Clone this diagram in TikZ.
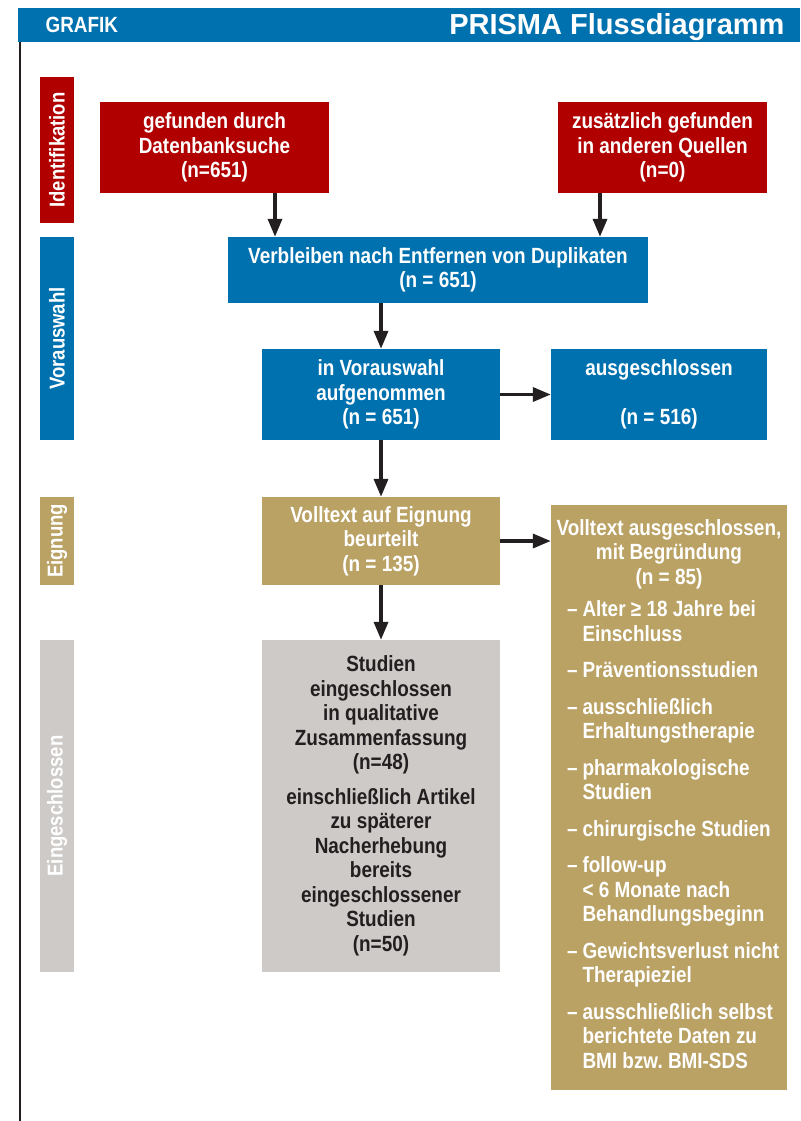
\documentclass[tikz,border=0pt]{standalone}
\usepackage{fontspec}
\setmainfont{Liberation Sans}
\newfontfamily\cnd{Liberation Sans}[FakeStretch=0.86]
\usetikzlibrary{arrows.meta}

\definecolor{prisred}{RGB}{176,0,0}
\definecolor{prisblue}{RGB}{0,113,175}
\definecolor{pristan}{RGB}{186,162,101}
\definecolor{prisgrey}{RGB}{206,202,199}
\definecolor{prisink}{RGB}{35,31,32}

\newcommand\boxfont{\cnd\bfseries\fontsize{22}{24.5}\selectfont}
\tikzset{
  box/.style={rectangle, inner sep=0pt, text=white, font=\boxfont, align=center},
  sidelab/.style={rectangle, inner sep=0pt, rotate=90, text=white, minimum height=34pt,
    font=\cnd\bfseries\fontsize{21.5}{22}\selectfont},
  arr/.style={-{Triangle[length=18pt,width=14pt]}, line width=3.5pt, draw=prisink},
}

\begin{document}
\begin{tikzpicture}[x=1pt,y=-1pt]
    \useasboundingbox (0,0) rectangle (800,1121);
    % header
    \fill[prisblue] (18,8) rectangle (800,42);
    \node[anchor=west, text=white, font=\cnd\bfseries\fontsize{22}{24}\selectfont] (grafik) at (42,25) {GRAFIK};
    \node[anchor=east, text=white, font=\bfseries\fontsize{29}{32}\selectfont] (title) at (788,27) {PRISMA Flussdiagramm};
    \draw[line width=2.5pt, prisink] (20,42) -- (20,1121);

    % phases
    \node[sidelab, fill=prisred,   minimum width=146pt] (ident) at (57,150)   {Identifikation};
    \node[sidelab, fill=prisblue,  minimum width=203pt] (vor)   at (57,338.5) {Vorauswahl};
    \node[sidelab, fill=pristan,   minimum width=88pt]  (eig)   at (57,541)   {Eignung};
    \node[sidelab, fill=prisgrey,  minimum width=332pt] (ein)   at (57,806)   {Eingeschlossen};

    % boxes
    \node[box, fill=prisred, minimum width=229pt, minimum height=91pt] (db) at (214.5,147.5)
      {gefunden durch\\Datenbanksuche\\(n=651)};
    \node[box, fill=prisred, minimum width=209pt, minimum height=91pt] (other) at (662.5,147.5)
      {zusätzlich gefunden\\in anderen Quellen\\(n=0)};
    \node[box, fill=prisblue, minimum width=420pt, minimum height=66pt] (dup) at (438,270)
      {Verbleiben nach Entfernen von Duplikaten\\(n = 651)};
    \node[box, fill=prisblue, minimum width=238pt, minimum height=91pt] (pre) at (381,394.5)
      {in Vorauswahl\\aufgenommen\\(n = 651)};
    \node[box, fill=prisblue, minimum width=216pt, minimum height=91pt] (excl) at (659,394.5)
      {ausgeschlossen\\~\\(n = 516)};
    \node[box, fill=pristan, minimum width=238pt, minimum height=88pt] (full) at (381,541)
      {Volltext auf Eignung\\beurteilt\\(n = 135)};
    \node[box, fill=prisgrey, text=prisink, minimum width=238pt, minimum height=332pt] (incl) at (381,806)
      {Studien\\eingeschlossen\\in qualitative\\Zusammenfassung\\(n=48)\\[10pt]
       einschließlich Artikel\\zu späterer\\Nacherhebung\\bereits\\eingeschlossener\\Studien\\(n=50)};
    \node[box, fill=pristan, minimum width=236pt, minimum height=585pt] (fexcl) at (669,797.5)
      {Volltext ausgeschlossen,\\mit Begründung\\(n = 85)\\[10pt]
       \makebox[236pt][l]{\hspace*{16pt}%
       \begin{tabular}{@{}l@{\hspace{5pt}}l@{}}
         – & Alter ≥ 18 Jahre bei\\ & Einschluss\\[12pt]
         – & Präventionsstudien\\[12pt]
         – & ausschließlich\\ & Erhaltungstherapie\\[12pt]
         – & pharmakologische\\ & Studien\\[12pt]
         – & chirurgische Studien\\[12pt]
         – & follow-up\\ & < 6 Monate nach\\ & Behandlungsbeginn\\[12pt]
         – & Gewichtsverlust nicht\\ & Therapieziel\\[12pt]
         – & ausschließlich selbst\\ & berichtete Daten zu\\ & BMI bzw.\ BMI-SDS
       \end{tabular}}};

    % arrows
    \draw[arr] ([xshift=60.5pt]db.south) -- ([xshift=60.5pt]db.south |- dup.north);
    \draw[arr] ([xshift=-62.5pt]other.south) -- ([xshift=-62.5pt]other.south |- dup.north);
    \draw[arr] (pre.north |- dup.south) -- (pre.north);
    \draw[arr] (pre.east) -- (excl.west);
    \draw[arr] (pre.south) -- (full.north);
    \draw[arr] (full.east) -- (full.east -| fexcl.west);
    \draw[arr] (full.south) -- (incl.north);
\end{tikzpicture}
\end{document}
